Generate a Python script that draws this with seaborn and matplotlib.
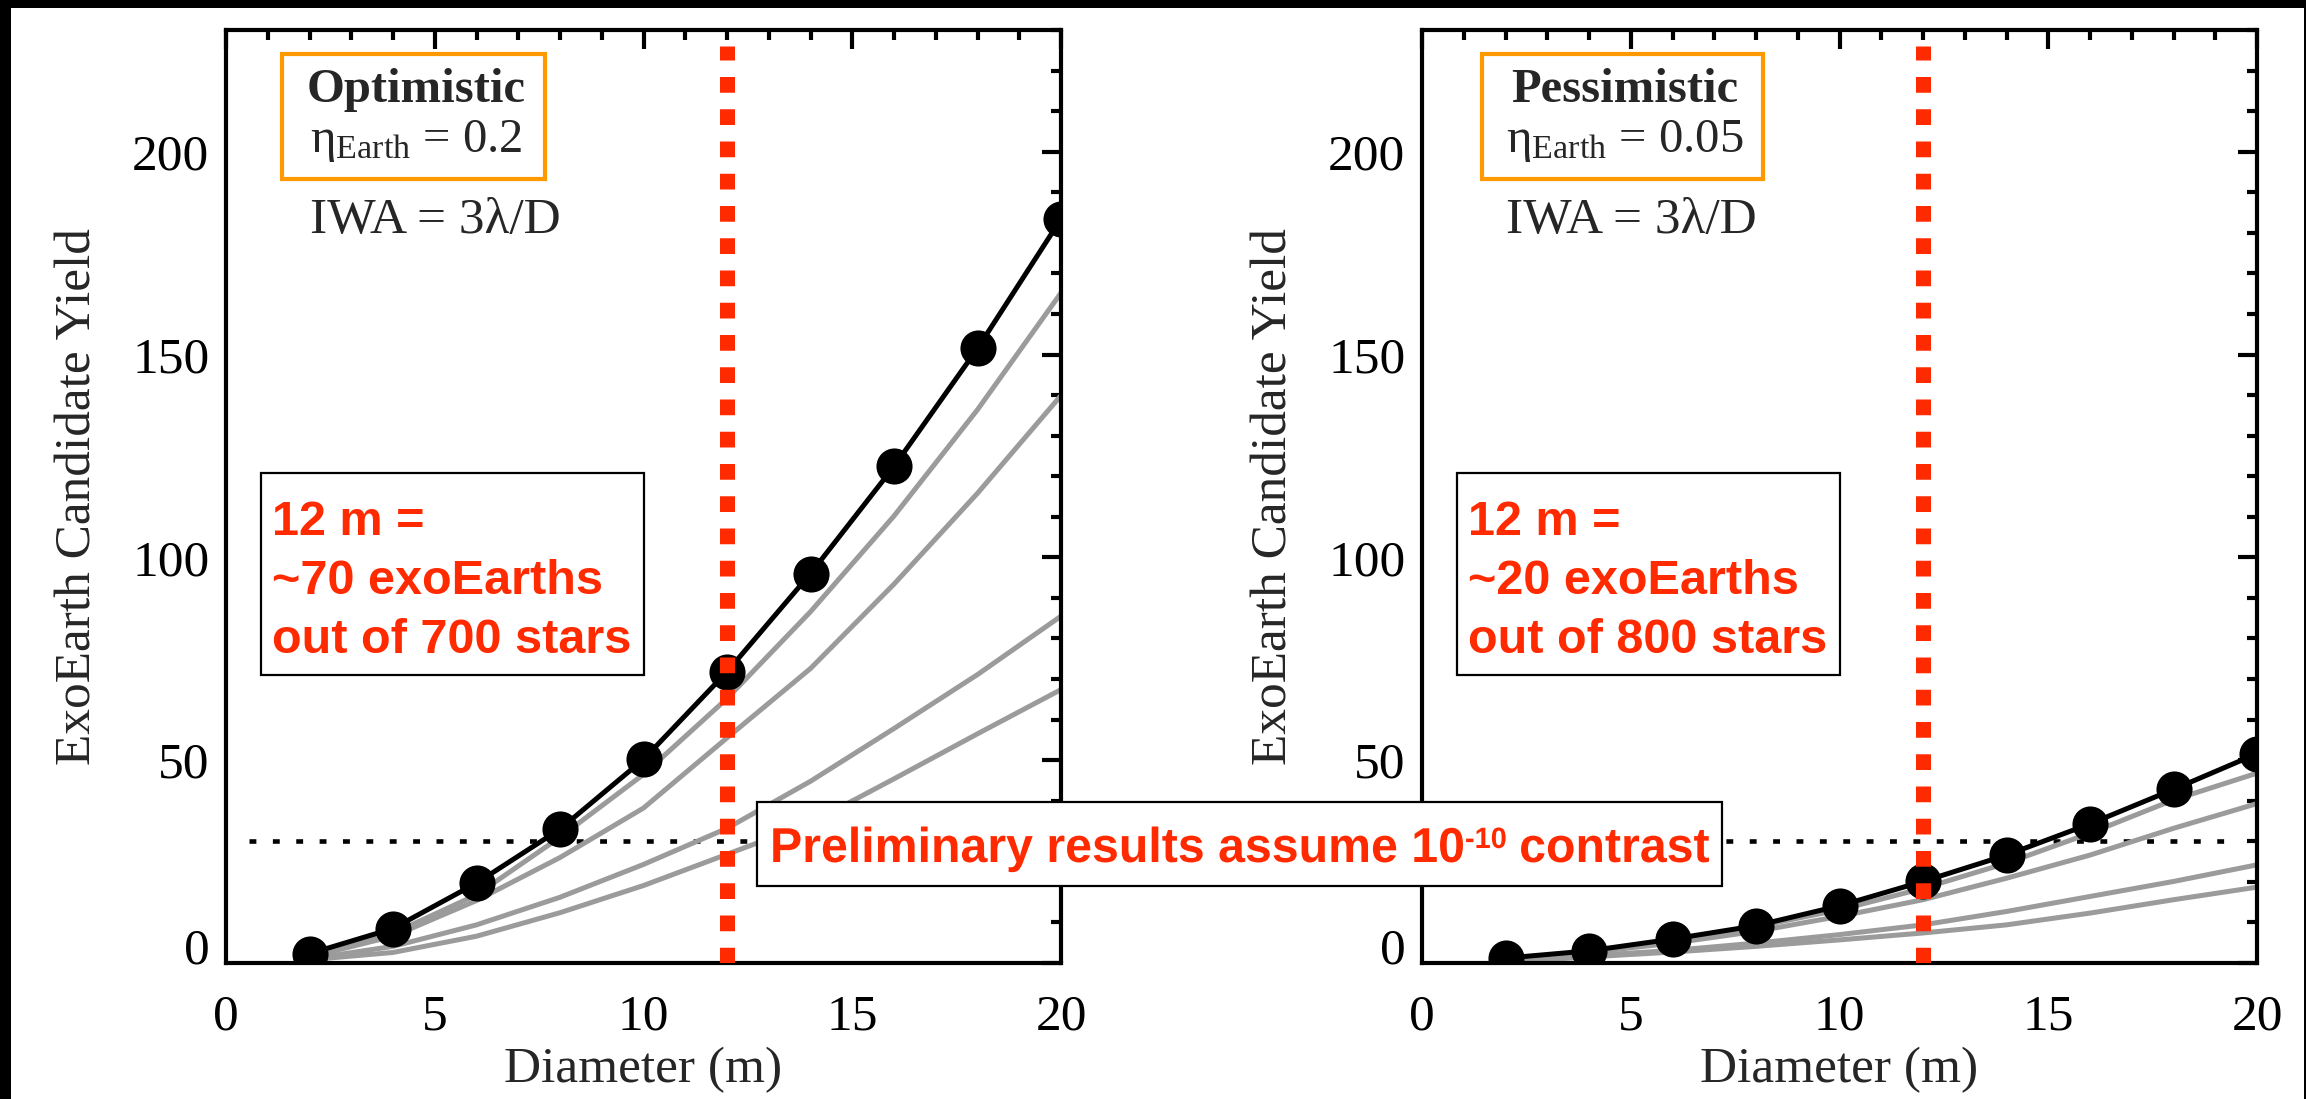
import matplotlib
matplotlib.use("Agg")
import matplotlib.pyplot as plt
import seaborn as sns
import pandas as pd
from matplotlib.patches import Rectangle, PathPatch
from matplotlib.ticker import MultipleLocator
from matplotlib.textpath import TextPath
from matplotlib.path import Path
from matplotlib.font_manager import FontProperties
from matplotlib.transforms import Affine2D

# --- data ---
diameters = [2, 4, 6, 8, 10, 12, 14, 16, 18, 20]

opt_best = [2.3, 8.5, 19.7, 33.0, 50.2, 71.8, 96.0, 122.4, 151.5, 183.4]
opt_alt1 = [1.8, 7.3, 16.8, 31.0, 46.5, 65.2, 86.6, 110.2, 136.4, 165.2]
opt_alt2 = [1.5, 6.6, 15.4, 26.0, 38.2, 55.5, 72.6, 93.4, 115.8, 139.9]
opt_alt3 = [1.0, 4.1, 9.4, 16.2, 24.3, 33.2, 44.8, 57.8, 71.1, 85.5]
opt_alt4 = [0.8, 2.6, 6.6, 12.4, 19.1, 26.8, 34.5, 45.4, 56.5, 67.4]

pess_best = [1.2, 3.0, 5.9, 9.2, 14.1, 20.1, 26.6, 34.3, 42.8, 51.6]
pess_alt1 = [0.5, 2.9, 5.7, 9.0, 13.1, 18.4, 24.6, 32.0, 40.2, 46.8]
pess_alt2 = [0.4, 2.6, 4.9, 7.8, 11.5, 15.6, 20.9, 26.6, 33.2, 39.3]
pess_alt3 = [0.3, 1.8, 3.1, 4.9, 7.0, 9.4, 12.7, 16.4, 20.1, 24.2]
pess_alt4 = [0.2, 1.5, 2.7, 4.1, 5.7, 7.4, 9.4, 12.3, 15.6, 18.7]

scenario_names = ["Optimistic", "Pessimistic"]
eta_values = ["0.2", "0.05"]
callouts = [["12 m =", "~70 exoEarths", "out of 700 stars"],
            ["12 m =", "~20 exoEarths", "out of 800 stars"]]
iwa_text = "IWA = 3\u03bb/D"
note_parts = ["Preliminary results assume 10", "-10", "contrast"]

x_major_ticks = [0, 5, 10, 15, 20]
y_major_ticks = [0, 50, 100, 150, 200]
chosen_diameter = 12
contrast_level = 30

RED = "#ff2a00"
ORANGE = "#ff9900"
GRAY = "#9b9b9b"

# --- style ---
sns.set_theme(style="white")
plt.rcParams["font.family"] = ["Liberation Serif", "DejaVu Serif"]
plt.rcParams["mathtext.fontset"] = "custom"
plt.rcParams["mathtext.rm"] = "Liberation Serif"
plt.rcParams["mathtext.it"] = "Liberation Serif:italic"

W, H = 2306, 1099
fig = plt.figure(figsize=(W / 100, H / 100), dpi=100)
fig.patch.set_facecolor("white")
px = Affine2D().scale(1 / W, 1 / H) + fig.transFigure  # pixel units -> figure

# black frame bands seen on the reference
for (x0, y0, w, h) in [(0, 1 - 8 / H, 1, 8 / H), (0, 0, 11 / W, 1), (1 - 2 / W, 0, 2 / W, 1)]:
    fig.add_artist(Rectangle((x0, y0), w, h, transform=fig.transFigure, color="black", lw=0, zorder=10))

ax_w, ax_h = 835 / W, 933 / H
ax_b = (H - 963) / H
ax1 = fig.add_axes([226 / W, ax_b, ax_w, ax_h])
ax2 = fig.add_axes([1422 / W, ax_b, ax_w, ax_h])

panels = [
    (ax1, opt_best, [opt_alt1, opt_alt2, opt_alt3, opt_alt4]),
    (ax2, pess_best, [pess_alt1, pess_alt2, pess_alt3, pess_alt4]),
]

for i, (ax, best, alts) in enumerate(panels):
    rows = []
    for k, series in enumerate(alts):
        for d, v in zip(diameters, series):
            rows.append({"diameter": d, "yield": v, "case": k})
    alt_df = pd.DataFrame(rows)
    sns.lineplot(data=alt_df, x="diameter", y="yield", units="case", estimator=None,
                 color=GRAY, lw=3.6, ax=ax, zorder=2, legend=False)
    sns.lineplot(x=diameters, y=best, color="black", lw=3.6, marker="o", markersize=26,
                 markeredgewidth=0, markeredgecolor="black", ax=ax, zorder=3)

    ax.axvline(chosen_diameter, ymin=0, ymax=226 / 230, color=RED, lw=10.8,
               dashes=(1.05, 1.1), solid_capstyle="butt", dash_capstyle="butt", zorder=5)
    x_start = 0.55 if i == 0 else 0
    x_end = 20 if i == 0 else 19.6
    ax.hlines(contrast_level, x_start, x_end, colors="black", lw=3.3,
              linestyles=[(0, (1.5, 3.6))], zorder=1, clip_on=False)

    ax.set_xlim(0, 20)
    ax.set_ylim(0, 230)
    ax.set_xticks(x_major_ticks)
    ax.set_yticks(y_major_ticks)
    ax.xaxis.set_minor_locator(MultipleLocator(1))
    ax.yaxis.set_minor_locator(MultipleLocator(10))
    ax.tick_params(which="both", direction="in", top=True, right=True, width=3, colors="black")
    ax.tick_params(which="major", length=13.7, labelsize=37)
    ax.tick_params(which="minor", length=7.2)
    ax.tick_params(axis="x", which="major", pad=22)
    ax.tick_params(axis="y", which="major", pad=12)
    for sp in ax.spines.values():
        sp.set_linewidth(3)
        sp.set_color("black")
    ax.set_xlabel("Diameter (m)", fontsize=37, labelpad=5)
    ax.set_ylabel("ExoEarth Candidate Yield", fontsize=37, labelpad=22)
    ax.yaxis.get_major_ticks()[0].label1.set_va("baseline")

    # IWA line
    ax.text(0.1, (963 - 233) / 933, iwa_text, transform=ax.transAxes, ha="left",
            va="baseline", fontsize=37)

    # red callout box
    base = (963 - 535) / 933
    step = 59 / 933
    for j, line in enumerate(callouts[i]):
        ax.text(0.0553, base - j * step, line, transform=ax.transAxes, ha="left", va="baseline",
                fontsize=35, fontweight="bold", color=RED, family="Liberation Sans", zorder=7)
    ax.add_patch(Rectangle((0.0415, (963 - 675) / 933), 0.459, 202 / 933, transform=ax.transAxes,
                           facecolor="white", edgecolor="black", lw=1.6, zorder=6))

# scenario boxes (orange) sized from the rendered text
fig.canvas.draw()
renderer = fig.canvas.get_renderer()
for i, (ax, _, _) in enumerate(panels):
    eta_t = ax.text(0.1, (963 - 152) / 933, r"$\mathrm{\eta}_{\mathrm{Earth}}$ = " + eta_values[i],
                    transform=ax.transAxes, ha="left", va="baseline", fontsize=35)
    fig.canvas.draw()
    e_bb = eta_t.get_window_extent(renderer)
    cx = ax.transAxes.inverted().transform(((e_bb.x0 + e_bb.x1) / 2, 0))[0]
    title_t = ax.text(cx, (963 - 102) / 933, scenario_names[i], transform=ax.transAxes,
                      ha="center", va="baseline", fontsize=35, fontweight="bold")
    fig.canvas.draw()
    t_bb = title_t.get_window_extent(renderer)
    x0 = min(e_bb.x0, t_bb.x0) - 24
    x1 = max(e_bb.x1, t_bb.x1) + 20
    y0 = e_bb.y0 - 15
    y1 = t_bb.y1 + 14
    (ax0, ay0), (ax1_, ay1) = ax.transAxes.inverted().transform([(x0, y0), (x1, y1)])
    ax.add_patch(Rectangle((ax0, ay0), ax1_ - ax0, ay1 - ay0, transform=ax.transAxes,
                           facecolor="none", edgecolor=ORANGE, lw=3, zorder=6))

# contrast note across both panels: condensed bold sans, built as a squeezed text path
fig.add_artist(Rectangle((757, H - 886), 965, 84, transform=px,
                         facecolor="white", edgecolor="black", lw=1.6, zorder=8))
bold_sans = FontProperties(family="Liberation Sans", weight="bold")
em = 49.0
p_main = TextPath((0, 0), note_parts[0], size=em, prop=bold_sans)
x_sup = p_main.get_extents().x1 + 2
p_sup = TextPath((x_sup, 14), note_parts[1], size=em * 0.6, prop=bold_sans)
x_rest = p_sup.get_extents().x1 + 0.28 * em
p_rest = TextPath((x_rest, 0), note_parts[2], size=em, prop=bold_sans)
note_path = Path.make_compound_path(p_main, p_sup, p_rest)
natural_w = note_path.get_extents().x1
squeeze = 939 / natural_w
fig.add_artist(PathPatch(note_path, transform=Affine2D().scale(squeeze, 1).translate(770, H - 862) + px,
                         facecolor=RED, edgecolor="none", zorder=9))

fig.savefig("out.png", dpi=100, facecolor="white")
